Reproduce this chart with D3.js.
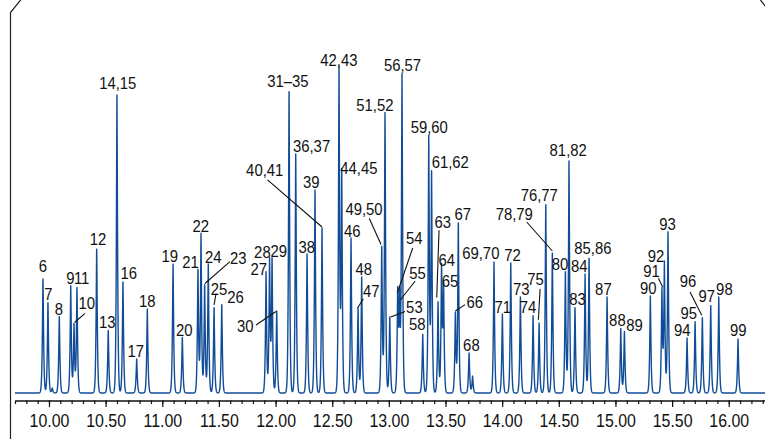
<!DOCTYPE html>
<html>
<head>
<meta charset="utf-8">
<script src="https://cdn.jsdelivr.net/npm/d3@7"></script>
<style>
  html, body { margin: 0; padding: 0; background: #fff; }
  svg { display: block; }
  text { font-family: "Liberation Sans", Arial, sans-serif; fill: #111; }
</style>
</head>
<body>
<svg id="chart" width="765" height="439"></svg>
<script>
// Peak table: compound numbers, retention time (min) and detector response (arb. units)
const peakNames = ["6","7","","8","9","10","11","12","13","14,15","16","17","18","19","20",
  "21","22","23","24","25","26","27","28","29","30","31–35","36,37","38","39","40,41",
  "42,43","44,45","46","47","48","49,50","51,52","53","54","55","56,57","58","59,60","61,62",
  "63","64","65","66","67","68","","69,70","71","72","73","74","75","76,77","78,79","80",
  "81,82","83","84","85,86","87","88","89","90","91","92","93","94","95","96","97","98","99"];

const retentionTimes = [9.947,9.991,10.029,10.091,10.192,10.221,10.247,10.421,10.523,10.600,10.653,10.774,10.868,11.095,11.177,
  11.315,11.342,11.374,11.406,11.457,11.525,11.916,11.947,11.969,12.010,12.119,12.178,12.278,12.348,12.410,
  12.560,12.584,12.666,12.728,12.760,12.937,12.966,13.008,13.078,13.094,13.116,13.299,13.352,13.377,
  13.434,13.465,13.483,13.587,13.613,13.708,13.739,13.928,14.002,14.076,14.161,14.273,14.326,14.385,14.443,14.558,
  14.590,14.643,14.732,14.767,14.926,15.047,15.079,15.308,15.410,15.432,15.464,15.632,15.703,15.767,15.841,15.912,16.082];

const peakHeights = [115,91,5,77,107,69,106,145,63,298,112,34,84,130,56,
  124,159,108,129,86,89,121,134,134,82,304,239,139,203,165,
  324,221,155,85,116,147,280,76,100,93,318,59,256,222,
  91,126,106,80,171,40,17,131,79,130,97,78,70,190,141,121,
  232,86,119,136,96,65,62,97,103,130,161,55,72,76,88,96,54];

// Axis ticks (min)
const majorTicks = [10, 10.5, 11, 11.5, 12, 12.5, 13, 13.5, 14, 14.5, 15, 15.5, 16];
const minorTicks = d3.range(97, 164).map(d => d / 10);

// Label placement relative to each peak apex: [dx, dy] to text centre / baseline
const labelOffsets = {
  "6":[0,-5.6], "7":[0.3,-2.3], "8":[-0.3,-1], "9":[-0.4,-2], "10":[12.8,-14.7], "11":[4.7,-2.7],
  "12":[1.3,-2.6], "13":[-1.1,-1.7], "14,15":[0.8,-5.7], "16":[5.8,-1.7], "17":[-0.9,-2], "18":[0,-2],
  "19":[-3.3,-1], "20":[1.9,-1.3], "21":[-7.5,-1], "22":[-0.3,-1.6], "23":[33.6,-21], "24":[5,-0.7],
  "25":[5,-12.5], "26":[13.8,-1.2], "27":[-7.2,3], "28":[-7.2,-0.8], "29":[6.7,-2], "30":[-31.4,21.2],
  "31–35":[-1.2,-2], "36,37":[15.8,-1.6], "38":[-0.3,-1.3], "39":[-3.7,-1.7], "40,41":[-57.3,-51.7],
  "42,43":[-0.2,-3.3], "44,45":[17.1,1.6], "46":[1.3,-1], "47":[13.3,-11], "48":[2,-1.7],
  "49,50":[-17.7,-30.7], "51,52":[-10.2,-2.3], "53":[24.6,-4], "54":[16.6,-48.7], "55":[17.9,-21],
  "56,57":[0.5,-4.3], "58":[-5.5,-4.3], "59,60":[0.5,-4], "61,62":[18.7,-2.7], "63":[4.7,-74],
  "64":[5.2,-1], "65":[6.5,0.3], "66":[19.4,-5], "67":[4.5,-2.4], "68":[2.3,-2], "69,70":[-13.2,-3.2],
  "71":[0.4,-0.7], "72":[1.8,-1.6], "73":[0.9,-1.4], "74":[-5.2,-1.7], "75":[-3.5,-37.6],
  "76,77":[-6.5,-1.7], "78,79":[-38.1,-31.7], "80":[-5.3,-1.7], "81,82":[-0.8,-5], "83":[2.5,-1.7],
  "84":[-5.8,-2.3], "85,86":[3.8,-3.4], "87":[-3.7,-2.4], "88":[-3.4,-1.7], "89":[10.2,0],
  "90":[-2,-1.7], "91":[-10.5,-12.7], "92":[-8.3,-1], "93":[-0.5,-2.4], "94":[-4.7,-1.7],
  "95":[-6.3,-2.4], "96":[-14.3,-30], "97":[-4,-3.3], "98":[5.6,-2], "99":[0.3,-2.6]
};

// Leader lines, both ends relative to the peak apex
const leaderOffsets = {
  "10":[[11,-10.7],[0.5,-1.5]], "23":[[25.3,-23.3],[0.3,-1.5]], "25":[[2,-13.5],[0,-2.2]],
  "30":[[-20.7,14],[-0.7,0.5]], "40,41":[[-54.5,-48.2],[0,-1]], "47":[[5.3,-9.3],[-0.5,0]],
  "49,50":[[-12.4,-27.4],[-0.7,-1.4]], "53":[[15.3,-5.6],[1,0]], "54":[[15,-45],[-0.4,0]],
  "55":[[15.7,-19],[0.7,0]], "63":[[1,-71.7],[-1.3,-4.4]], "66":[[9.7,-8.4],[-0.3,-1.7]],
  "75":[[1,-34],[-0.7,-3.3]], "78,79":[[-25.6,-30],[0,-1]], "91":[[-3.5,-11.7],[0.9,-2.7]],
  "96":[[-12.3,-25],[-0.6,-1.7]]
};

const peaks = peakNames.map((name, i) => ({ name, t: retentionTimes[i], h: peakHeights[i] }));

const svg = d3.select("#chart");

const x = d3.scaleLinear().domain([9.7, 16.32]).range([15, 765]);
const y = d3.scaleLinear().domain([0, 330]).range([393, 63]);

// Chromatogram trace: sum of sharp peak profiles sampled along the time axis
const peakWidth = 0.0075;   // min
const peakShape = 1.3;
const step = 0.0004;
const nSamples = Math.round((16.32 - 9.7) / step);
const trace = [];
for (let i = 0; i <= nSamples; i++) {
  const t = 9.7 + i * step;
  let v = 0;
  for (const p of peaks) {
    const d = Math.abs(t - p.t);
    if (d < 0.08) v += p.h * Math.exp(-Math.pow(d / peakWidth, peakShape));
  }
  trace.push({ t, v });
}

// Outer frame
svg.append("path")
  .attr("d", "M10.5,440 L10.5,12.5 L21,-0.5")
  .attr("fill", "none").attr("stroke", "#222").attr("stroke-width", 1.2);
svg.append("path")
  .attr("d", "M760,-0.5 L766,7")
  .attr("fill", "none").attr("stroke", "#222").attr("stroke-width", 1.2);

svg.append("path")
  .datum(trace)
  .attr("fill", "none")
  .attr("stroke", "#104c98")
  .attr("stroke-width", 1.4)
  .attr("stroke-linejoin", "round")
  .attr("d", d3.line().x(d => x(d.t)).y(d => y(d.v)));

// Time axis
const axisY = 400.5;
const minorAxis = svg.append("g")
  .attr("transform", `translate(0,${axisY})`)
  .call(d3.axisBottom(x).tickValues(minorTicks).tickSize(3.5).tickSizeOuter(0).tickFormat(""));
minorAxis.select(".domain").attr("stroke", "#111").attr("stroke-width", 1.5);
minorAxis.selectAll(".tick line").attr("stroke", "#111").attr("stroke-width", 1.2);

const majorAxis = svg.append("g")
  .attr("transform", `translate(0,${axisY})`)
  .call(d3.axisBottom(x).tickValues(majorTicks).tickSize(6.5).tickSizeOuter(0)
    .tickPadding(8).tickFormat(d3.format(".2f")));
majorAxis.select(".domain").remove();
majorAxis.selectAll(".tick line").attr("stroke", "#111").attr("stroke-width", 1.2);
majorAxis.selectAll(".tick text")
  .attr("fill", "#111")
  .style("font-size", "17.5px")
  .style("font-family", "'Liberation Sans', Arial, sans-serif")
  .attr("transform", "scale(0.91,1)");

// Peak annotations
const labelled = peaks.filter(p => p.name !== "");

svg.append("g").selectAll("line")
  .data(labelled.filter(p => leaderOffsets[p.name]))
  .join("line")
  .attr("x1", p => x(p.t) + leaderOffsets[p.name][0][0])
  .attr("y1", p => y(p.h) + leaderOffsets[p.name][0][1])
  .attr("x2", p => x(p.t) + leaderOffsets[p.name][1][0])
  .attr("y2", p => y(p.h) + leaderOffsets[p.name][1][1])
  .attr("stroke", "#111")
  .attr("stroke-width", 1.1);

svg.append("g").selectAll("g")
  .data(labelled)
  .join("g")
  .attr("transform", p => {
    const o = labelOffsets[p.name] || [0, -3];
    return `translate(${x(p.t) + o[0]},${y(p.h) + o[1]})`;
  })
  .append("text")
  .attr("text-anchor", "middle")
  .attr("transform", "scale(0.93,1)")
  .style("font-size", "16px")
  .text(p => p.name);
</script>
</body>
</html>
